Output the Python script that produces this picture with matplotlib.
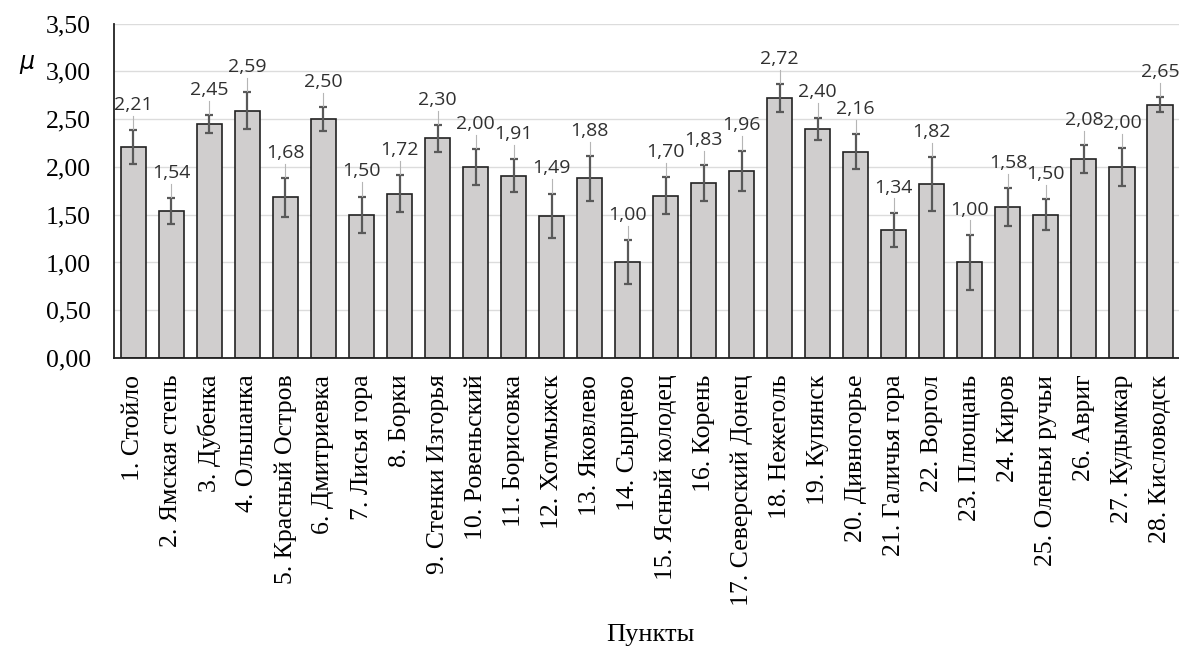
import numpy as np
import matplotlib
matplotlib.use("Agg")
import matplotlib.pyplot as plt

sites = ["1. Стойло", "2. Ямская степь", "3. Дубенка", "4. Ольшанка",
         "5. Красный Остров", "6. Дмитриевка", "7. Лисья гора", "8. Борки",
         "9. Стенки Изгорья", "10. Ровеньский", "11. Борисовка", "12. Хотмыжск",
         "13. Яковлево", "14. Сырцево", "15. Ясный колодец", "16. Корень",
         "17. Северский Донец", "18. Нежеголь", "19. Купянск", "20. Дивногорье",
         "21. Галичья гора", "22. Воргол", "23. Плющань", "24. Киров",
         "25. Оленьи ручьи", "26. Авриг", "27. Кудымкар", "28. Кисловодск"]
mu = [2.21, 1.54, 2.45, 2.59, 1.68, 2.50, 1.50, 1.72, 2.30, 2.00, 1.91, 1.49,
      1.88, 1.00, 1.70, 1.83, 1.96, 2.72, 2.40, 2.16, 1.34, 1.82, 1.00, 1.58,
      1.50, 2.08, 2.00, 2.65]
err = [0.175, 0.135, 0.095, 0.19, 0.20, 0.125, 0.19, 0.195, 0.14, 0.185, 0.17,
       0.23, 0.235, 0.23, 0.19, 0.19, 0.21, 0.145, 0.115, 0.185, 0.18, 0.28,
       0.29, 0.20, 0.16, 0.145, 0.195, 0.08]

serif = "Liberation Serif"

fig = plt.figure(figsize=(11.79, 6.55), dpi=100)
ax = fig.add_axes([0.097, 0.4534, 0.903, 0.5106])

x = np.arange(len(mu))
ax.bar(x, mu, width=0.66, color="#d0cece", edgecolor="#222222", linewidth=1.2,
       zorder=2)
ax.errorbar(x, mu, yerr=err, fmt="none", ecolor="#595959", elinewidth=1.6,
            capsize=3, capthick=1.6, zorder=3)

# value labels with leader lines
for xi, m, e in zip(x, mu, err):
    top = m + e
    ly = top + 0.17
    ax.plot([xi, xi], [top + 0.01, ly - 0.02], color="#b5b5b5", lw=0.8, zorder=3)
    ax.text(xi, ly, f"{m:.2f}".replace(".", ","), ha="center", va="bottom",
            fontsize=14, family="Open Sans", color="#303030", zorder=4)

ax.set_xlim(-0.5, len(mu) - 0.5)
ax.set_ylim(0, 3.5)
ax.set_yticks(np.arange(0, 3.51, 0.5))
ax.set_yticklabels([f"{v:.2f}".replace(".", ",") for v in np.arange(0, 3.51, 0.5)],
                   family=serif, fontsize=18.5)
ax.set_xticks(x)
ax.set_xticklabels(sites, rotation=90, family=serif, fontsize=18.5)
ax.tick_params(axis="both", length=0)
ax.tick_params(axis="y", pad=17)
ax.tick_params(axis="x", pad=12)

ax.grid(axis="y", color="#dcdcdc", lw=1.0, zorder=0)
ax.set_axisbelow(True)
for s in ["top", "right"]:
    ax.spines[s].set_visible(False)
ax.spines["left"].set_color("#222222")
ax.spines["bottom"].set_color("#222222")
ax.spines["left"].set_linewidth(1.3)
ax.spines["bottom"].set_linewidth(1.3)

fig.text(0.016, 0.905, "μ", family="DejaVu Sans", style="italic", fontsize=17,
         ha="left", va="center")
fig.text(0.552, 0.03, "Пункты", family=serif, fontsize=19, ha="center",
         va="center")

fig.savefig("out.png", dpi=100)
